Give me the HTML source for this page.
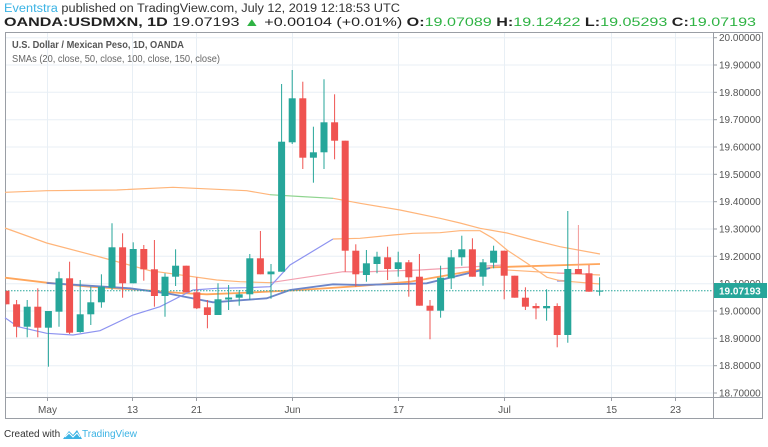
<!DOCTYPE html>
<html><head><meta charset="utf-8"><style>
html,body{margin:0;padding:0;background:#fff;width:768px;height:447px;overflow:hidden;font-family:"Liberation Sans",sans-serif;}
</style></head><body>
<svg width="768" height="447" viewBox="0 0 768 447" xmlns="http://www.w3.org/2000/svg" font-family="Liberation Sans, sans-serif">
<rect width="768" height="447" fill="#fff"/>
<text x="4" y="12" font-size="11.5" fill="#333" textLength="396" lengthAdjust="spacingAndGlyphs"><tspan fill="#3bb3e4">Eventstra</tspan> published on TradingView.com, July 12, 2019 12:18:53 UTC</text>
<text x="4" y="26" font-size="11.5" fill="#222" textLength="752" lengthAdjust="spacingAndGlyphs"><tspan font-weight="bold">OANDA:USDMXN, 1D</tspan> 19.07193 <tspan fill="#2fb344">▲</tspan> +0.00104 (+0.01%) <tspan font-weight="bold">O:</tspan><tspan fill="#2fb344">19.07089</tspan> <tspan font-weight="bold">H:</tspan><tspan fill="#2fb344">19.12422</tspan> <tspan font-weight="bold">L:</tspan><tspan fill="#2fb344">19.05293</tspan> <tspan font-weight="bold">C:</tspan><tspan fill="#2fb344">19.07193</tspan></text>
<g stroke="#e8eff5" stroke-width="1">
<line x1="5" x2="713" y1="37.7" y2="37.7"/><line x1="5" x2="713" y1="65" y2="65"/><line x1="5" x2="713" y1="92.3" y2="92.3"/><line x1="5" x2="713" y1="119.7" y2="119.7"/><line x1="5" x2="713" y1="147" y2="147"/><line x1="5" x2="713" y1="174.3" y2="174.3"/><line x1="5" x2="713" y1="201.7" y2="201.7"/><line x1="5" x2="713" y1="229" y2="229"/><line x1="5" x2="713" y1="256.3" y2="256.3"/><line x1="5" x2="713" y1="283.7" y2="283.7"/><line x1="5" x2="713" y1="311" y2="311"/><line x1="5" x2="713" y1="338.3" y2="338.3"/><line x1="5" x2="713" y1="365.7" y2="365.7"/><line x1="5" x2="713" y1="393" y2="393"/>
<line y1="33" y2="397" x1="47.5" x2="47.5"/><line y1="33" y2="397" x1="132.5" x2="132.5"/><line y1="33" y2="397" x1="196.5" x2="196.5"/><line y1="33" y2="397" x1="292.5" x2="292.5"/><line y1="33" y2="397" x1="398.5" x2="398.5"/><line y1="33" y2="397" x1="504.5" x2="504.5"/><line y1="33" y2="397" x1="611.5" x2="611.5"/><line y1="33" y2="397" x1="675.5" x2="675.5"/>
</g>
<rect x="5.5" y="32.5" width="757" height="386" fill="none" stroke="#9a9ea5" stroke-width="1"/>
<line x1="5" x2="763" y1="397.5" y2="397.5" stroke="#9a9ea5"/>
<line x1="713.5" x2="713.5" y1="33" y2="419" stroke="#9a9ea5"/>
<text x="12" y="48" font-size="10.5" fill="#555" font-weight="bold" textLength="172" lengthAdjust="spacingAndGlyphs">U.S. Dollar / Mexican Peso, 1D, OANDA</text>
<text x="12" y="62" font-size="10" fill="#666" textLength="208" lengthAdjust="spacingAndGlyphs">SMAs (20, close, 50, close, 100, close, 150, close)</text>
<g fill="none" stroke-width="1.2">
<polyline stroke="#ffb57a" points="5,192.3 46.7,190.7 116.7,190 173,187.3 246.7,190.7 270,194.7"/>
<polyline stroke="#8fd48f" points="270,194.7 300,196.5 333,198.3"/>
<polyline stroke="#ffb57a" points="333,198.3 360,203.3 400,210 440,218.3 460,223 480,228.3 507,233 533,240 560,246.7 600,254"/>
<polyline stroke="#ffb57a" points="5,228 46.7,243 100,257 150,270.7 216.7,280 240,281.7 270,282.7"/>
<polyline stroke="#f2a0b0" points="270,282.7 343,271.7 360,272 420,270 470,267 503,265"/>
<polyline stroke="#ffb57a" points="503,265 507,270 557,273 600,275"/>
<polyline stroke="#f2a0b0" points="557,273 590,274"/>
<polyline stroke="#ffa65c" stroke-width="1.8" points="5,277.7 46.7,282.7 90,286.7 143,290 180,293 206.7,294.3 240,293 300,290 360,286 410,281.7 493,267.3 600,264"/>
<polyline stroke="#6d86c9" stroke-width="1.8" points="46.7,283 130,288.3 166.7,293.3 213,302.3 266.7,298.3 290,290 333,284.3 360,285 426.7,283.3 490,268"/>
<polyline stroke="#8d93e8" stroke-width="1.8" points="557,280.7 567,281"/>
<polyline stroke="#8d93f0" points="5,317.7 18,326.7 46.7,333.3 73,335 100,330.7 133,315 160,306.7 183,295 193,290 216.7,288.3 247,287.7 270,286.7 290,265 333,239"/>
<polyline stroke="#ffb57a" points="333,239 360,238.3 393,235 413,233.3 440,232.7 460,230.7 480,230.7 493,238.3 507,250 527,263.3 547,277.3 560,280.7 600,284"/>
</g>
<line x1="5" x2="713" y1="290.7" y2="290.7" stroke="#26a69a" stroke-dasharray="1.5,1.5" stroke-width="1"/>
<g>
<line x1="6.5" x2="6.5" y1="290.7" y2="304.3" stroke="#ef5350"/><rect x="5.5" y="290.7" width="4" height="13.6" fill="#ef5350"/>
<line x1="16.6" x2="16.6" y1="300" y2="337.3" stroke="#ef5350"/><rect x="13.1" y="304.3" width="7" height="22.4" fill="#ef5350"/>
<line x1="27.2" x2="27.2" y1="300" y2="337.3" stroke="#26a69a"/><rect x="23.7" y="306.7" width="7" height="20" fill="#26a69a"/>
<line x1="37.8" x2="37.8" y1="288.3" y2="337.3" stroke="#ef5350"/><rect x="34.3" y="306.7" width="7" height="21" fill="#ef5350"/>
<line x1="48.4" x2="48.4" y1="311" y2="366.7" stroke="#26a69a"/><rect x="44.9" y="311" width="7" height="16.7" fill="#26a69a"/>
<line x1="59" x2="59" y1="271.7" y2="326.7" stroke="#26a69a"/><rect x="55.5" y="278.3" width="7" height="33.4" fill="#26a69a"/>
<line x1="69.6" x2="69.6" y1="261.7" y2="334" stroke="#ef5350"/><rect x="66.1" y="278.3" width="7" height="54.4" fill="#ef5350"/>
<line x1="80.2" x2="80.2" y1="280" y2="332.7" stroke="#26a69a"/><rect x="76.7" y="314.3" width="7" height="17.7" fill="#26a69a"/>
<line x1="90.8" x2="90.8" y1="286.7" y2="325" stroke="#26a69a"/><rect x="87.3" y="302.3" width="7" height="12" fill="#26a69a"/>
<line x1="101.4" x2="101.4" y1="274.3" y2="307.7" stroke="#26a69a"/><rect x="97.9" y="286.7" width="7" height="15.6" fill="#26a69a"/>
<line x1="112" x2="112" y1="223.3" y2="290" stroke="#26a69a"/><rect x="108.5" y="247.3" width="7" height="40.4" fill="#26a69a"/>
<line x1="122.6" x2="122.6" y1="233.3" y2="297.7" stroke="#ef5350"/><rect x="119.1" y="247.3" width="7" height="36" fill="#ef5350"/>
<line x1="133.2" x2="133.2" y1="242.3" y2="283.3" stroke="#26a69a"/><rect x="129.7" y="249" width="7" height="34.3" fill="#26a69a"/>
<line x1="143.8" x2="143.8" y1="245" y2="280.7" stroke="#ef5350"/><rect x="140.3" y="249" width="7" height="20.3" fill="#ef5350"/>
<line x1="154.4" x2="154.4" y1="240" y2="306.7" stroke="#ef5350"/><rect x="150.9" y="269.3" width="7" height="26.7" fill="#ef5350"/>
<line x1="165" x2="165" y1="273.3" y2="316.7" stroke="#26a69a"/><rect x="161.5" y="276.7" width="7" height="19.3" fill="#26a69a"/>
<line x1="175.6" x2="175.6" y1="249.3" y2="286" stroke="#26a69a"/><rect x="172.1" y="265.7" width="7" height="11" fill="#26a69a"/>
<line x1="186.2" x2="186.2" y1="265.7" y2="292.3" stroke="#ef5350"/><rect x="182.7" y="265.7" width="7" height="26.6" fill="#ef5350"/>
<line x1="196.8" x2="196.8" y1="277.3" y2="309" stroke="#ef5350"/><rect x="193.3" y="292.3" width="7" height="16" fill="#ef5350"/>
<line x1="207.4" x2="207.4" y1="300" y2="328.3" stroke="#ef5350"/><rect x="203.9" y="307.3" width="7" height="7.7" fill="#ef5350"/>
<line x1="218" x2="218" y1="283.3" y2="315" stroke="#26a69a"/><rect x="214.5" y="299.3" width="7" height="15.7" fill="#26a69a"/>
<line x1="228.6" x2="228.6" y1="285" y2="310" stroke="#26a69a"/><rect x="225.1" y="297.5" width="7" height="2" fill="#26a69a"/>
<line x1="239.2" x2="239.2" y1="290" y2="305.7" stroke="#26a69a"/><rect x="235.7" y="294.3" width="7" height="3.4" fill="#26a69a"/>
<line x1="249.8" x2="249.8" y1="254" y2="300" stroke="#26a69a"/><rect x="246.3" y="258.3" width="7" height="36" fill="#26a69a"/>
<line x1="260.4" x2="260.4" y1="231" y2="274.3" stroke="#ef5350"/><rect x="256.9" y="258.3" width="7" height="16" fill="#ef5350"/>
<line x1="271" x2="271" y1="264" y2="298.7" stroke="#26a69a"/><rect x="267.5" y="271.5" width="7" height="2.8" fill="#26a69a"/>
<line x1="281.6" x2="281.6" y1="84" y2="271.7" stroke="#26a69a"/><rect x="278.1" y="141.7" width="7" height="130" fill="#26a69a"/>
<line x1="292.2" x2="292.2" y1="70" y2="144" stroke="#26a69a"/><rect x="288.7" y="98.3" width="7" height="44" fill="#26a69a"/>
<line x1="302.8" x2="302.8" y1="81.7" y2="169" stroke="#ef5350"/><rect x="299.3" y="98.3" width="7" height="59.4" fill="#ef5350"/>
<line x1="313.4" x2="313.4" y1="126.7" y2="182.7" stroke="#26a69a"/><rect x="309.9" y="152.3" width="7" height="5.4" fill="#26a69a"/>
<line x1="324" x2="324" y1="79.3" y2="169" stroke="#26a69a"/><rect x="320.5" y="122.3" width="7" height="30" fill="#26a69a"/>
<line x1="334.6" x2="334.6" y1="94.3" y2="159.3" stroke="#ef5350"/><rect x="331.1" y="122.3" width="7" height="18.4" fill="#ef5350"/>
<line x1="345.2" x2="345.2" y1="140.7" y2="271.7" stroke="#ef5350"/><rect x="341.7" y="140.7" width="7" height="110" fill="#ef5350"/>
<line x1="355.8" x2="355.8" y1="244.3" y2="286.7" stroke="#ef5350"/><rect x="352.3" y="250.7" width="7" height="23.6" fill="#ef5350"/>
<line x1="366.4" x2="366.4" y1="250" y2="281.7" stroke="#26a69a"/><rect x="362.9" y="263.3" width="7" height="11.7" fill="#26a69a"/>
<line x1="377" x2="377" y1="251.7" y2="273.3" stroke="#26a69a"/><rect x="373.5" y="256.7" width="7" height="7.3" fill="#26a69a"/>
<line x1="387.6" x2="387.6" y1="246.7" y2="280" stroke="#ef5350"/><rect x="384.1" y="257.3" width="7" height="11.7" fill="#ef5350"/>
<line x1="398.2" x2="398.2" y1="251.7" y2="276.7" stroke="#26a69a"/><rect x="394.7" y="262.3" width="7" height="6.7" fill="#26a69a"/>
<line x1="408.8" x2="408.8" y1="260" y2="296.7" stroke="#ef5350"/><rect x="405.3" y="262.3" width="7" height="15" fill="#ef5350"/>
<line x1="419.4" x2="419.4" y1="254" y2="305.7" stroke="#ef5350"/><rect x="415.9" y="276.7" width="7" height="29" fill="#ef5350"/>
<line x1="430" x2="430" y1="300" y2="339.3" stroke="#ef5350"/><rect x="426.5" y="305.7" width="7" height="5" fill="#ef5350"/>
<line x1="440.6" x2="440.6" y1="265.7" y2="317.7" stroke="#26a69a"/><rect x="437.1" y="277.7" width="7" height="33" fill="#26a69a"/>
<line x1="451.2" x2="451.2" y1="250" y2="289" stroke="#26a69a"/><rect x="447.7" y="257.3" width="7" height="21" fill="#26a69a"/>
<line x1="461.8" x2="461.8" y1="235.7" y2="265.7" stroke="#26a69a"/><rect x="458.3" y="249.3" width="7" height="8" fill="#26a69a"/>
<line x1="472.4" x2="472.4" y1="238.3" y2="276.7" stroke="#ef5350"/><rect x="468.9" y="249.3" width="7" height="27.4" fill="#ef5350"/>
<line x1="483" x2="483" y1="259" y2="285.7" stroke="#26a69a"/><rect x="479.5" y="262.3" width="7" height="14.4" fill="#26a69a"/>
<line x1="493.6" x2="493.6" y1="245.7" y2="268.3" stroke="#26a69a"/><rect x="490.1" y="250.7" width="7" height="12" fill="#26a69a"/>
<line x1="504.2" x2="504.2" y1="250.7" y2="299.3" stroke="#ef5350"/><rect x="500.7" y="250.7" width="7" height="25" fill="#ef5350"/>
<line x1="514.8" x2="514.8" y1="275.7" y2="297.7" stroke="#ef5350"/><rect x="511.3" y="275.7" width="7" height="22" fill="#ef5350"/>
<line x1="525.4" x2="525.4" y1="287.3" y2="310" stroke="#ef5350"/><rect x="521.9" y="297.7" width="7" height="9" fill="#ef5350"/>
<line x1="536" x2="536" y1="303.3" y2="319.3" stroke="#ef5350"/><rect x="532.5" y="306" width="7" height="2.3" fill="#ef5350"/>
<line x1="546.6" x2="546.6" y1="289.3" y2="320.7" stroke="#26a69a"/><rect x="543.1" y="306" width="7" height="2.3" fill="#26a69a"/>
<line x1="557.2" x2="557.2" y1="303.3" y2="347.3" stroke="#ef5350"/><rect x="553.7" y="306" width="7" height="29" fill="#ef5350"/>
<line x1="567.8" x2="567.8" y1="211" y2="342.7" stroke="#26a69a"/><rect x="564.3" y="269" width="7" height="66" fill="#26a69a"/>
<line x1="578.4" x2="578.4" y1="225" y2="274" stroke="#f29a98"/><rect x="574.9" y="269" width="7" height="5" fill="#ef5350"/>
<line x1="589" x2="589" y1="265" y2="291.7" stroke="#ef5350"/><rect x="585.5" y="273.3" width="7" height="18.4" fill="#ef5350"/>
<line x1="599.6" x2="599.6" y1="277.3" y2="295.7" stroke="#26a69a"/><rect x="596.1" y="290.5" width="7" height="1.2" fill="#26a69a"/>
</g>
<g font-size="10" fill="#555">
<g stroke="#9a9ea5"><line x1="713" x2="717" y1="37.7" y2="37.7"/><line x1="713" x2="717" y1="65" y2="65"/><line x1="713" x2="717" y1="92.3" y2="92.3"/><line x1="713" x2="717" y1="119.7" y2="119.7"/><line x1="713" x2="717" y1="147" y2="147"/><line x1="713" x2="717" y1="174.3" y2="174.3"/><line x1="713" x2="717" y1="201.7" y2="201.7"/><line x1="713" x2="717" y1="229" y2="229"/><line x1="713" x2="717" y1="256.3" y2="256.3"/><line x1="713" x2="717" y1="283.7" y2="283.7"/><line x1="713" x2="717" y1="311" y2="311"/><line x1="713" x2="717" y1="338.3" y2="338.3"/><line x1="713" x2="717" y1="365.7" y2="365.7"/><line x1="713" x2="717" y1="393" y2="393"/></g>
<text x="719" y="41.2">20.00000</text><text x="719" y="68.5">19.90000</text><text x="719" y="95.8">19.80000</text><text x="719" y="123.2">19.70000</text><text x="719" y="150.5">19.60000</text><text x="719" y="177.8">19.50000</text><text x="719" y="205.2">19.40000</text><text x="719" y="232.5">19.30000</text><text x="719" y="259.8">19.20000</text><text x="719" y="287.2">19.10000</text><text x="719" y="314.5">19.00000</text><text x="719" y="341.8">18.90000</text><text x="719" y="369.2">18.80000</text><text x="719" y="396.5">18.70000</text>
</g>
<rect x="714" y="283" width="53" height="15" fill="#26a69a"/>
<text x="719" y="294.5" font-size="10" fill="#fff" font-weight="bold">19.07193</text>
<g stroke="#9a9ea5"><line x1="47.5" x2="47.5" y1="397" y2="401"/><line x1="132.5" x2="132.5" y1="397" y2="401"/><line x1="196.5" x2="196.5" y1="397" y2="401"/><line x1="292.5" x2="292.5" y1="397" y2="401"/><line x1="398.5" x2="398.5" y1="397" y2="401"/><line x1="504.5" x2="504.5" y1="397" y2="401"/><line x1="611.5" x2="611.5" y1="397" y2="401"/><line x1="675.5" x2="675.5" y1="397" y2="401"/></g>
<g font-size="10" fill="#555" text-anchor="middle">
<text x="47.5" y="413">May</text><text x="132.5" y="413">13</text><text x="196.5" y="413">21</text><text x="292.5" y="413">Jun</text><text x="398.5" y="413">17</text><text x="504.5" y="413">Jul</text><text x="611.5" y="413">15</text><text x="675.5" y="413">23</text>
</g>
<text x="4" y="437" font-size="10" fill="#333">Created with</text>
<path d="M63,439 L69,431 L73,435 L77,430 L82,439 Z" fill="#3bb3e4"/>
<path d="M65,437 L69,433 L73,437 L77,433 L80,437" fill="none" stroke="#fff" stroke-width="1"/>
<text x="82" y="437" font-size="10" fill="#3bb3e4">TradingView</text>
</svg>
</body></html>
